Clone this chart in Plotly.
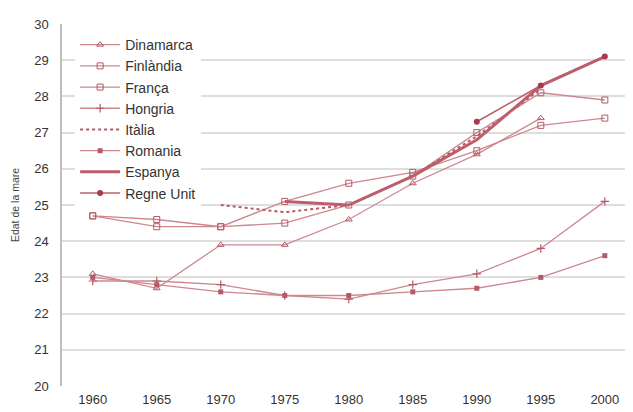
import plotly.graph_objects as go

YEARS = [1960, 1965, 1970, 1975, 1980, 1985, 1990, 1995, 2000]

DINAMARCA = [23.1, 22.7, 23.9, 23.9, 24.6, 25.6, 26.4, 27.4, None]
FINLANDIA = [24.7, 24.6, 24.4, 25.1, 25.6, 25.9, 26.5, 27.2, 27.4]
FRANCA = [24.7, 24.4, 24.4, 24.5, 25.0, 25.8, 27.0, 28.1, 27.9]
HONGRIA = [22.9, 22.9, 22.8, 22.5, 22.4, 22.8, 23.1, 23.8, 25.1]
ITALIA = [None, None, 25.0, 24.8, 25.0, 25.8, 26.9, 28.2, None]
ROMANIA = [23.0, 22.8, 22.6, 22.5, 22.5, 22.6, 22.7, 23.0, 23.6]
ESPANYA = [None, None, None, 25.1, 25.0, 25.8, 26.8, 28.3, 29.1]
REGNE_UNIT = [None, None, None, None, None, None, 27.3, 28.3, 29.1]

LINE = "#cd8790"
MARK = "#b55a67"

series = [
    ("Dinamarca", DINAMARCA, dict(color=LINE, width=1.3), dict(symbol="triangle-up-open", size=6, color=MARK)),
    ("Finlàndia", FINLANDIA, dict(color=LINE, width=1.3), dict(symbol="square-open", size=6, color=MARK)),
    ("França", FRANCA, dict(color=LINE, width=1.3), dict(symbol="square-open", size=6, color=MARK)),
    ("Hongria", HONGRIA, dict(color=LINE, width=1.3), dict(symbol="cross-thin-open", size=6, color=MARK, line=dict(width=1.2, color=MARK))),
    ("Itàlia", ITALIA, dict(color="#b55a67", width=2, dash="dot"), None),
    ("Romania", ROMANIA, dict(color=LINE, width=1.3), dict(symbol="square", size=5, color=MARK)),
    ("Espanya", ESPANYA, dict(color="#bc5f6b", width=3), None),
    ("Regne Unit", REGNE_UNIT, dict(color="#bc5f6b", width=1.5), dict(symbol="circle", size=6, color="#a83a4c")),
]

fig = go.Figure()
for name, vals, line, marker in series:
    fig.add_trace(go.Scatter(
        x=YEARS, y=vals, name=name,
        mode="lines+markers" if marker else "lines",
        line=line, marker=marker, connectgaps=False,
    ))

# the page body keeps an 8px margin, so the figure is 8px smaller and shifted
fig.update_layout(
    width=625, height=404,
    plot_bgcolor="white", paper_bgcolor="white",
    font=dict(family="Liberation Sans, Arial, sans-serif", color="#333", size=13),
    margin=dict(l=54, r=0, t=16, b=26, autoexpand=False),
    showlegend=True,
    legend=dict(
        x=0.023, y=0.986, xanchor="left", yanchor="top",
        bgcolor="white", borderwidth=0,
        font=dict(size=14, color="#333"),
        tracegroupgap=0, itemwidth=40,
    ),
    xaxis=dict(
        range=[1957.6, 2002.2], tickvals=YEARS, automargin=False,
        showgrid=False, zeroline=False, showline=False,
        ticks="", ticklabelstandoff=4, tickfont=dict(size=13, color="#333"),
    ),
    yaxis=dict(
        title=dict(text="Edat de la mare", font=dict(size=10.5, color="#444"), standoff=13),
        range=[20, 30], dtick=1, automargin=False,
        showgrid=True, gridcolor="#dedede", gridwidth=1.5,
        zeroline=False, showline=True, linecolor="#bdbdbd", linewidth=1.5,
        ticks="", ticklabelstandoff=9, tickfont=dict(size=13, color="#333"),
    ),
)

fig.write_html("out.html")
